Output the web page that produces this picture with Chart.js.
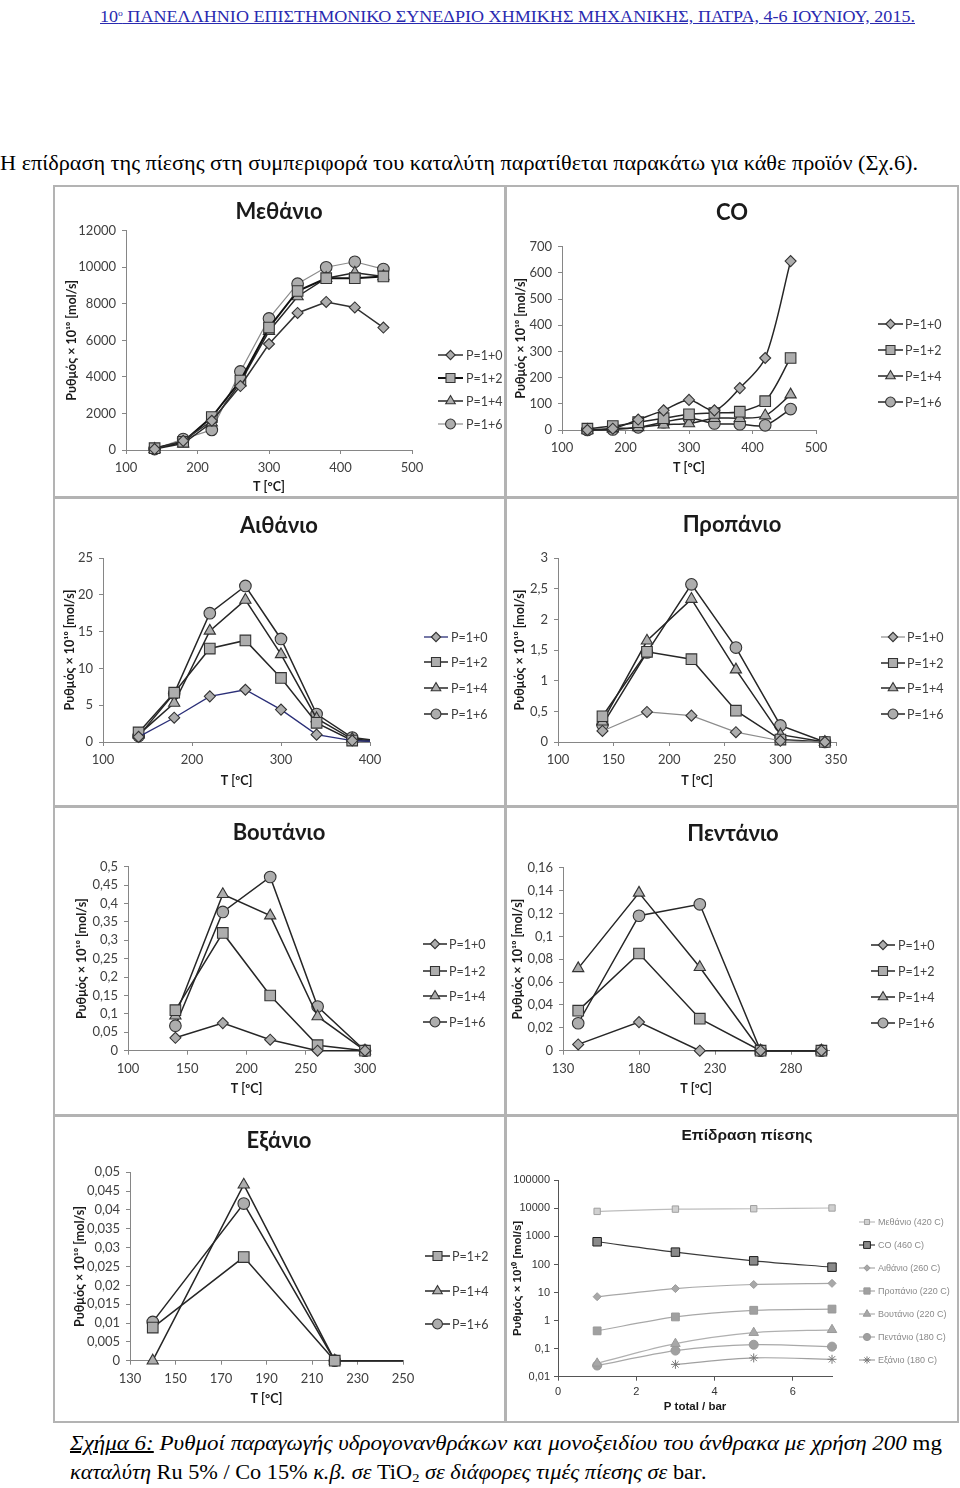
<!DOCTYPE html>
<html><head><meta charset="utf-8">
<script src="https://cdn.jsdelivr.net/npm/chart.js@4.4.1/dist/chart.umd.min.js"></script>
<style>
html,body{margin:0;padding:0;background:#fff;}
body{width:960px;height:1488px;position:relative;overflow:hidden;}
.txt{position:absolute;white-space:nowrap;transform-origin:0 50%;font-family:'Liberation Serif','Times New Roman',serif;color:#000;}
.panel{position:absolute;border:2px solid #b3b3b3;box-sizing:border-box;background:#fff;}
canvas{position:absolute;}
</style></head><body>
<div id="hdr" class="txt" style="left:100px;top:3px;font-size:17px;line-height:20px;color:#2a2ab0;text-decoration:underline;">10<span style="font-size:9px;vertical-align:6px;">ο</span> ΠΑΝΕΛΛΗΝΙΟ ΕΠΙΣΤΗΜΟΝΙΚΟ ΣΥΝΕΔΡΙΟ ΧΗΜΙΚΗΣ ΜΗΧΑΝΙΚΗΣ, ΠΑΤΡΑ, 4-6 ΙΟΥΝΙΟΥ, 2015.</div>
<div id="intro" class="txt" style="left:0px;top:151px;font-size:20px;line-height:24px;">Η επίδραση της πίεσης στη συμπεριφορά του καταλύτη παρατίθεται παρακάτω για κάθε προϊόν (Σχ.6).</div>
<div id="cap1" class="txt" style="left:70px;top:1431px;font-size:20px;line-height:24px;font-style:italic;"><span style="text-decoration:underline;">Σχήμα 6:</span> Ρυθμοί παραγωγής υδρογονανθράκων και μονοξειδίου του άνθρακα με χρήση 200 <span style="font-style:normal">mg</span></div>
<div id="cap2" class="txt" style="left:70px;top:1460px;font-size:20px;line-height:24px;font-style:italic;">καταλύτη <span style="font-style:normal">Ru 5% / Co 15%</span> κ.β. σε <span style="font-style:normal">TiO<sub style="font-size:13px;vertical-align:-3px;">2</sub></span> σε διάφορες τιμές πίεσης σε <span style="font-style:normal">bar</span>.</div>
<script>
// ================= DATA =================
const SERIES_LABELS = ['P=1+0','P=1+2','P=1+4','P=1+6'];
const Y_TITLE = 'Ρυθμός × 10¹⁰ [mol/s]';

const METHANE_T  = [140,180,220,260,300,340,380,420,460];
const METHANE_P0 = [50,500,1600,3500,5800,7500,8100,7800,6700];
const METHANE_P2 = [100,450,1800,3800,6700,8700,9400,9400,9500];
const METHANE_P4 = [50,350,1500,3700,6500,8400,9400,9700,9500];
const METHANE_P6 = [50,600,1100,4300,7200,9100,10000,10300,9900];
const METHANE_XTICKS = [100,200,300,400,500];
const METHANE_YTICKS = [0,2000,4000,6000,8000,10000,12000];

const CO_T  = [140,180,220,260,300,340,380,420,460];
const CO_P0 = [0,5,40,75,115,75,160,275,645];
const CO_P2 = [5,15,30,45,60,65,70,110,275];
const CO_P4 = [0,5,10,20,25,45,45,55,135];
const CO_P6 = [0,2,10,30,45,25,22,18,80];
const CO_XTICKS = [100,200,300,400,500];
const CO_YTICKS = [0,100,200,300,400,500,600,700];

const ETHANE_T  = [140,180,220,260,300,340,380,420];
const ETHANE_P0 = [0.7,3.3,6.2,7.1,4.4,1.0,0.2,0];
const ETHANE_P2 = [1.3,6.7,12.7,13.8,8.7,2.6,0.2,0];
const ETHANE_P4 = [1.0,5.3,15.1,19.3,11.9,3.2,0.4,0];
const ETHANE_P6 = [0.8,6.6,17.5,21.2,14.0,3.8,0.6,0];
const ETHANE_XTICKS = [100,200,300,400];
const ETHANE_YTICKS = [0,5,10,15,20,25];

const PROPANE_T  = [140,180,220,260,300,340];
const PROPANE_P0 = [0.18,0.49,0.43,0.16,0.02,0];
const PROPANE_P2 = [0.42,1.47,1.35,0.51,0.04,0];
const PROPANE_P4 = [0.33,1.65,2.33,1.18,0.12,0];
const PROPANE_P6 = [0.28,1.46,2.57,1.54,0.27,0];
const PROPANE_XTICKS = [100,150,200,250,300,350];
const PROPANE_YTICKS = [0,0.5,1,1.5,2,2.5,3];

const BUTANE_T  = [140,180,220,260,300];
const BUTANE_P0 = [0.035,0.075,0.03,0,0];
const BUTANE_P2 = [0.11,0.32,0.15,0.015,0];
const BUTANE_P4 = [0.095,0.425,0.367,0.093,0];
const BUTANE_P6 = [0.068,0.377,0.472,0.12,0];
const BUTANE_XTICKS = [100,150,200,250,300];
const BUTANE_YTICKS = [0,0.05,0.1,0.15,0.2,0.25,0.3,0.35,0.4,0.45,0.5];

const PENTANE_T  = [140,180,220,260,300];
const PENTANE_P0 = [0.0055,0.025,0,0,0];
const PENTANE_P2 = [0.035,0.085,0.028,0,0];
const PENTANE_P4 = [0.072,0.138,0.073,0,0];
const PENTANE_P6 = [0.024,0.118,0.128,0,0];
const PENTANE_XTICKS = [130,180,230,280];
const PENTANE_YTICKS = [0,0.02,0.04,0.06,0.08,0.1,0.12,0.14,0.16];

const HEXANE_LABELS = ['P=1+2','P=1+4','P=1+6'];
const HEXANE_T  = [140,180,220,260];
const HEXANE_P2 = [0.0088,0.0275,0,0];
const HEXANE_P4 = [0,0.0467,0,0];
const HEXANE_P6 = [0.0103,0.0417,0,0];
const HEXANE_XTICKS = [130,150,170,190,210,230,250];
const HEXANE_YTICKS = [0,0.005,0.01,0.015,0.02,0.025,0.03,0.035,0.04,0.045,0.05];

const PRESSURE_P = [1,3,5,7];
const PRESSURE_LABELS = ['Μεθάνιο (420 C)','CO (460 C)','Αιθάνιο (260 C)','Προπάνιο (220 C)','Βουτάνιο (220 C)','Πεντάνιο (180 C)','Εξάνιο (180 C)'];
const PR_METHANE = [7800,9400,9700,10300];
const PR_CO      = [645,275,135,80];
const PR_ETHANE  = [7.1,13.8,19.3,21.2];
const PR_PROPANE = [0.43,1.35,2.33,2.57];
const PR_BUTANE  = [0.03,0.15,0.37,0.47];
const PR_PENTANE = [0.025,0.085,0.138,0.118];
const PR_HEXANE  = [null,0.0275,0.0467,0.0417];
const PRESSURE_XTICKS = [0,2,4,6];
const PRESSURE_YTICKS = [0.01,0.1,1,10,100,1000,10000,100000];

// ================= TEXT FITTING =================
function fit(id,w){const el=document.getElementById(id);const r=el.getBoundingClientRect().width;el.style.transform='scaleX('+(w/r)+')';}
fit('hdr',815); fit('intro',918); fit('cap1',872); fit('cap2',637);

// ================= LAYOUT =================
const COLS=[{x:55,w:449},{x:507,w:450}];
const ROWS=[{y:187,h:309},{y:499,h:306},{y:808,h:306},{y:1117,h:304}];
const PANEL_DIVS=[[53,185,453,313],[505,185,454,313],[53,497,453,310],[505,497,454,310],[53,806,453,310],[505,806,454,310],[53,1115,453,308],[505,1115,454,308]];
PANEL_DIVS.forEach(p=>{const d=document.createElement('div');d.className='panel';Object.assign(d.style,{left:p[0]+'px',top:p[1]+'px',width:p[2]+'px',height:p[3]+'px'});document.body.appendChild(d);});

const SANS="Lato, 'Open Sans', 'Noto Sans', sans-serif";
const ARIAL="'Liberation Sans', Arial, sans-serif";

function fmt(v){const n=+(+v).toPrecision(10);return String(n).replace('.',',');}

const MARK=[
  {pointStyle:'rectRot',pointRadius:5.5},
  {pointStyle:'rect',pointRadius:7.5},
  {pointStyle:'triangle',pointRadius:6.5},
  {pointStyle:'circle',pointRadius:5.8}
];
function ser(label,xs,ys,mi,lineColor,lineWidth,clip){
  const m=MARK[mi];
  return {label,data:xs.map((x,i)=>({x,y:ys[i]})),borderColor:lineColor||'#262626',borderWidth:lineWidth||1.5,
    pointStyle:m.pointStyle,pointRadius:m.pointRadius,legendRadius:m.pointRadius*0.85,
    pointBackgroundColor:'#adadad',pointBorderColor:'#333',pointBorderWidth:1.1,clip:clip||false};
}

function drawMarker(ctx,style,r,x,y){
  try{ Chart.helpers.drawPoint(ctx,{pointStyle:style,radius:r,borderWidth:ctx.lineWidth,rotation:0},x,y); return; }catch(e){}
  ctx.beginPath();ctx.arc(x,y,r,0,Math.PI*2);ctx.fill();ctx.stroke();
}

function panel(col,row,cfg){
  const box={x:COLS[col].x,y:ROWS[row].y,w:COLS[col].w,h:ROWS[row].h};
  const cv=document.createElement('canvas');
  cv.width=box.w;cv.height=box.h;
  Object.assign(cv.style,{left:box.x+'px',top:box.y+'px',width:box.w+'px',height:box.h+'px'});
  document.body.appendChild(cv);
  const pl=cfg.plot.l-box.x,pr=cfg.plot.r-box.x,pt=cfg.plot.t-box.y,pb=cfg.plot.b-box.y;
  const F=cfg.font;const ats=cfg.axisTitleSize;const lh=ats*1.2;
  const decor={id:'decor',afterDraw(chart){
    const ctx=chart.ctx;ctx.save();
    ctx.fillStyle=cfg.titleColor;ctx.font='bold '+cfg.titleSize+'px '+F;ctx.textAlign='center';ctx.textBaseline='middle';
    ctx.fillText(cfg.title,cfg.titleX-box.x,cfg.titleY-box.y);
    const L=cfg.legend;
    chart.data.datasets.forEach((ds,i)=>{
      const y=L.ys[i]-box.y,x1=L.x1-box.x,x2=L.x2-box.x;
      ctx.strokeStyle=ds.borderColor;ctx.lineWidth=ds.borderWidth;ctx.beginPath();ctx.moveTo(x1,y);ctx.lineTo(x2,y);ctx.stroke();
      ctx.fillStyle=ds.pointBackgroundColor;ctx.strokeStyle=ds.pointBorderColor;ctx.lineWidth=ds.pointBorderWidth;
      drawMarker(ctx,ds.pointStyle,ds.legendRadius,(x1+x2)/2,y);
      ctx.fillStyle=L.color;ctx.font=L.size+'px '+F;ctx.textAlign='left';ctx.textBaseline='middle';
      ctx.fillText(ds.label,L.textX-box.x,y+0.5);
    });
    ctx.restore();
  }};
  const axisColor=cfg.axisColor;
  return new Chart(cv,{
    type:'line',
    data:{datasets:cfg.datasets},
    options:{
      responsive:false,animation:false,devicePixelRatio:1,events:[],
      layout:{padding:{left:0,top:pt,right:box.w-pr,bottom:0}},
      plugins:{legend:{display:false},title:{display:false},tooltip:{enabled:false}},
      elements:{line:{tension:cfg.tension||0}},
      scales:{
        x:{type:'linear',min:cfg.xMin,max:cfg.xMax,
          afterBuildTicks:s=>{s.ticks=cfg.xTicks.map(v=>({value:v}));},
          afterFit:s=>{s.height=box.h-pb;},
          grid:{drawOnChartArea:false,drawTicks:true,tickLength:4,color:axisColor,lineWidth:1},
          border:{display:true,color:axisColor,width:1},
          ticks:{autoSkip:false,maxRotation:0,minRotation:0,padding:cfg.xTickPad,color:cfg.tickColor,font:{family:F,size:cfg.tickSize},callback:v=>fmt(v)},
          title:{display:true,text:cfg.xTitle,color:cfg.titleColor,font:{family:F,size:ats,weight:'bold',lineHeight:1.2},padding:{top:0,bottom:box.h-(cfg.xTitleY-box.y)-lh/2}}
        },
        y:{type:cfg.yType||'linear',min:cfg.yMin,max:cfg.yMax,
          afterBuildTicks:s=>{s.ticks=cfg.yTicks.map(v=>({value:v}));},
          afterFit:s=>{s.width=pl;},
          grid:{drawOnChartArea:false,drawTicks:true,tickLength:4,color:axisColor,lineWidth:1},
          border:{display:true,color:axisColor,width:1},
          ticks:{autoSkip:false,padding:cfg.yTickPad,color:cfg.tickColor,font:{family:F,size:cfg.tickSize},callback:v=>fmt(v)},
          title:{display:true,text:cfg.yTitle,color:cfg.titleColor,font:{family:F,size:ats,weight:'bold',lineHeight:1.2},padding:{top:(cfg.yTitleX-box.x)-lh/2,bottom:0}}
        }
      }
    },
    plugins:[decor]
  });
}

const BASE={font:SANS,tickSize:13,tickColor:'#404040',axisColor:'#868686',titleColor:'#1a1a1a',titleSize:22,axisTitleSize:12.5,xTickPad:6,yTickPad:6,yTitle:Y_TITLE,xTitle:'T [°C]'};
const LEG=(x1,x2,tx,ys)=>({x1,x2,textX:tx,ys,color:'#404040',size:12.5});
const RIGHT_CLIP={left:false,top:false,right:0,bottom:false};

// Methane
panel(0,0,Object.assign({},BASE,{title:'Μεθάνιο',titleX:279,titleY:212,
  plot:{l:126,r:412,t:230.7,b:450},xTitleY:487,yTitleX:72,
  xMin:100,xMax:500,xTicks:METHANE_XTICKS,yMin:0,yMax:12000,yTicks:METHANE_YTICKS,
  legend:LEG(438,463,466,[355,378,401,424]),
  datasets:[ser(SERIES_LABELS[0],METHANE_T,METHANE_P0,0,'#303030',1.5),ser(SERIES_LABELS[1],METHANE_T,METHANE_P2,1,'#111',2),
            ser(SERIES_LABELS[2],METHANE_T,METHANE_P4,2,'#262626',1.5),ser(SERIES_LABELS[3],METHANE_T,METHANE_P6,3,'#8c8c8c',1.2)]}));
// CO
panel(1,0,Object.assign({},BASE,{title:'CO',titleX:732,titleY:213,tension:0.3,
  plot:{l:562,r:816,t:246.7,b:430},xTitleY:468,yTitleX:521,
  xMin:100,xMax:500,xTicks:CO_XTICKS,yMin:0,yMax:700,yTicks:CO_YTICKS,
  legend:LEG(878,903,905,[324,350,376,402]),
  datasets:[ser(SERIES_LABELS[0],CO_T,CO_P0,0),ser(SERIES_LABELS[1],CO_T,CO_P2,1),
            ser(SERIES_LABELS[2],CO_T,CO_P4,2),ser(SERIES_LABELS[3],CO_T,CO_P6,3)]}));
// Ethane
panel(0,1,Object.assign({},BASE,{title:'Αιθάνιο',titleX:279,titleY:526,xTitle:'T [ºC]',
  plot:{l:103,r:370,t:558,b:742},xTitleY:781,yTitleX:70,
  xMin:100,xMax:400,xTicks:ETHANE_XTICKS,yMin:0,yMax:25,yTicks:ETHANE_YTICKS,
  legend:LEG(424,448,451,[637,662,688,714]),
  datasets:[ser(SERIES_LABELS[0],ETHANE_T,ETHANE_P0,0,'#2b2f78',1.3,RIGHT_CLIP),ser(SERIES_LABELS[1],ETHANE_T,ETHANE_P2,1,'#262626',1.5,RIGHT_CLIP),
            ser(SERIES_LABELS[2],ETHANE_T,ETHANE_P4,2,'#262626',1.5,RIGHT_CLIP),ser(SERIES_LABELS[3],ETHANE_T,ETHANE_P6,3,'#262626',1.5,RIGHT_CLIP)]}));
// Propane
panel(1,1,Object.assign({},BASE,{title:'Προπάνιο',titleX:732,titleY:525,xTitle:'T [ºC]',
  plot:{l:558,r:836,t:558,b:742},xTitleY:781,yTitleX:520,
  xMin:100,xMax:350,xTicks:PROPANE_XTICKS,yMin:0,yMax:3,yTicks:PROPANE_YTICKS,
  legend:LEG(881,905,907,[637,663,688,714]),
  datasets:[ser(SERIES_LABELS[0],PROPANE_T,PROPANE_P0,0,'#8c8c8c',1.2),ser(SERIES_LABELS[1],PROPANE_T,PROPANE_P2,1),
            ser(SERIES_LABELS[2],PROPANE_T,PROPANE_P4,2),ser(SERIES_LABELS[3],PROPANE_T,PROPANE_P6,3)]}));
// Butane
panel(0,2,Object.assign({},BASE,{title:'Βουτάνιο',titleX:279,titleY:833,xTitle:'T [ºC]',
  plot:{l:128,r:365,t:866.7,b:1050.7},xTitleY:1089,yTitleX:82,
  xMin:100,xMax:300,xTicks:BUTANE_XTICKS,yMin:0,yMax:0.5,yTicks:BUTANE_YTICKS,
  legend:LEG(423,447,449,[944,971,996,1022]),
  datasets:[ser(SERIES_LABELS[0],BUTANE_T,BUTANE_P0,0),ser(SERIES_LABELS[1],BUTANE_T,BUTANE_P2,1),
            ser(SERIES_LABELS[2],BUTANE_T,BUTANE_P4,2),ser(SERIES_LABELS[3],BUTANE_T,BUTANE_P6,3)]}));
// Pentane
panel(1,2,Object.assign({},BASE,{title:'Πεντάνιο',titleX:733,titleY:834,xTitle:'T [ºC]',
  plot:{l:563,r:829,t:867.7,b:1050.7},xTitleY:1089,yTitleX:518,
  xMin:130,xMax:305,xTicks:PENTANE_XTICKS,yMin:0,yMax:0.16,yTicks:PENTANE_YTICKS,
  legend:LEG(871,895,898,[945,971,997,1023]),
  datasets:[ser(SERIES_LABELS[0],PENTANE_T,PENTANE_P0,0),ser(SERIES_LABELS[1],PENTANE_T,PENTANE_P2,1),
            ser(SERIES_LABELS[2],PENTANE_T,PENTANE_P4,2),ser(SERIES_LABELS[3],PENTANE_T,PENTANE_P6,3)]}));
// Hexane
panel(0,3,Object.assign({},BASE,{title:'Εξάνιο',titleX:279,titleY:1141,
  plot:{l:130,r:403,t:1172.3,b:1360.7},xTitleY:1399,yTitleX:80,
  xMin:130,xMax:250,xTicks:HEXANE_XTICKS,yMin:0,yMax:0.05,yTicks:HEXANE_YTICKS,
  legend:LEG(425,450,452,[1256,1291,1324]),
  datasets:[ser(HEXANE_LABELS[0],HEXANE_T,HEXANE_P2,1,'#262626',1.5,RIGHT_CLIP),
            ser(HEXANE_LABELS[1],HEXANE_T,HEXANE_P4,2,'#262626',1.5,RIGHT_CLIP),
            ser(HEXANE_LABELS[2],HEXANE_T,HEXANE_P6,3,'#262626',1.5,RIGHT_CLIP)]}));
// Pressure effect
function pser(label,ys,style,r,lineColor,fill,border){
  return {label,data:PRESSURE_P.map((x,i)=>({x,y:ys[i]})),borderColor:lineColor,borderWidth:1.2,
    pointStyle:style,pointRadius:r,legendRadius:r*0.8,pointBackgroundColor:fill,pointBorderColor:border,pointBorderWidth:1,clip:false};
}
panel(1,3,{font:ARIAL,tickSize:11,tickColor:'#333',axisColor:'#555',titleColor:'#1a1a1a',titleSize:15.5,axisTitleSize:11.5,xTickPad:5,yTickPad:4,
  title:'Επίδραση πίεσης',titleX:747,titleY:1136,tension:0.3,
  yTitle:Y_TITLE,xTitle:'P total / bar',yType:'logarithmic',
  plot:{l:558,r:832,t:1180.3,b:1376.7},xTitleY:1407,yTitleX:518,
  xMin:0,xMax:7,xTicks:PRESSURE_XTICKS,yMin:0.01,yMax:100000,yTicks:PRESSURE_YTICKS,
  legend:{x1:859,x2:875,textX:878,ys:[1222,1245,1268,1291,1314,1337,1360],color:'#8a8a8a',size:9},
  datasets:[
    pser(PRESSURE_LABELS[0],PR_METHANE,'rect',4.5,'#bdbdbd','#d0d0d0','#a0a0a0'),
    pser(PRESSURE_LABELS[1],PR_CO,'rect',6,'#3a3a3a','#8a8a8a','#1e1e1e'),
    pser(PRESSURE_LABELS[2],PR_ETHANE,'rectRot',4,'#a8a8a8','#a8a8a8','#9a9a9a'),
    pser(PRESSURE_LABELS[3],PR_PROPANE,'rect',5.5,'#a8a8a8','#a0a0a0','#999'),
    pser(PRESSURE_LABELS[4],PR_BUTANE,'triangle',5.5,'#b0b0b0','#a8a8a8','#999'),
    pser(PRESSURE_LABELS[5],PR_PENTANE,'circle',4.5,'#a8a8a8','#a0a0a0','#999'),
    pser(PRESSURE_LABELS[6],PR_HEXANE,'star',4.5,'#a0a0a0','#999','#777')
  ]});
</script>
</body></html>
